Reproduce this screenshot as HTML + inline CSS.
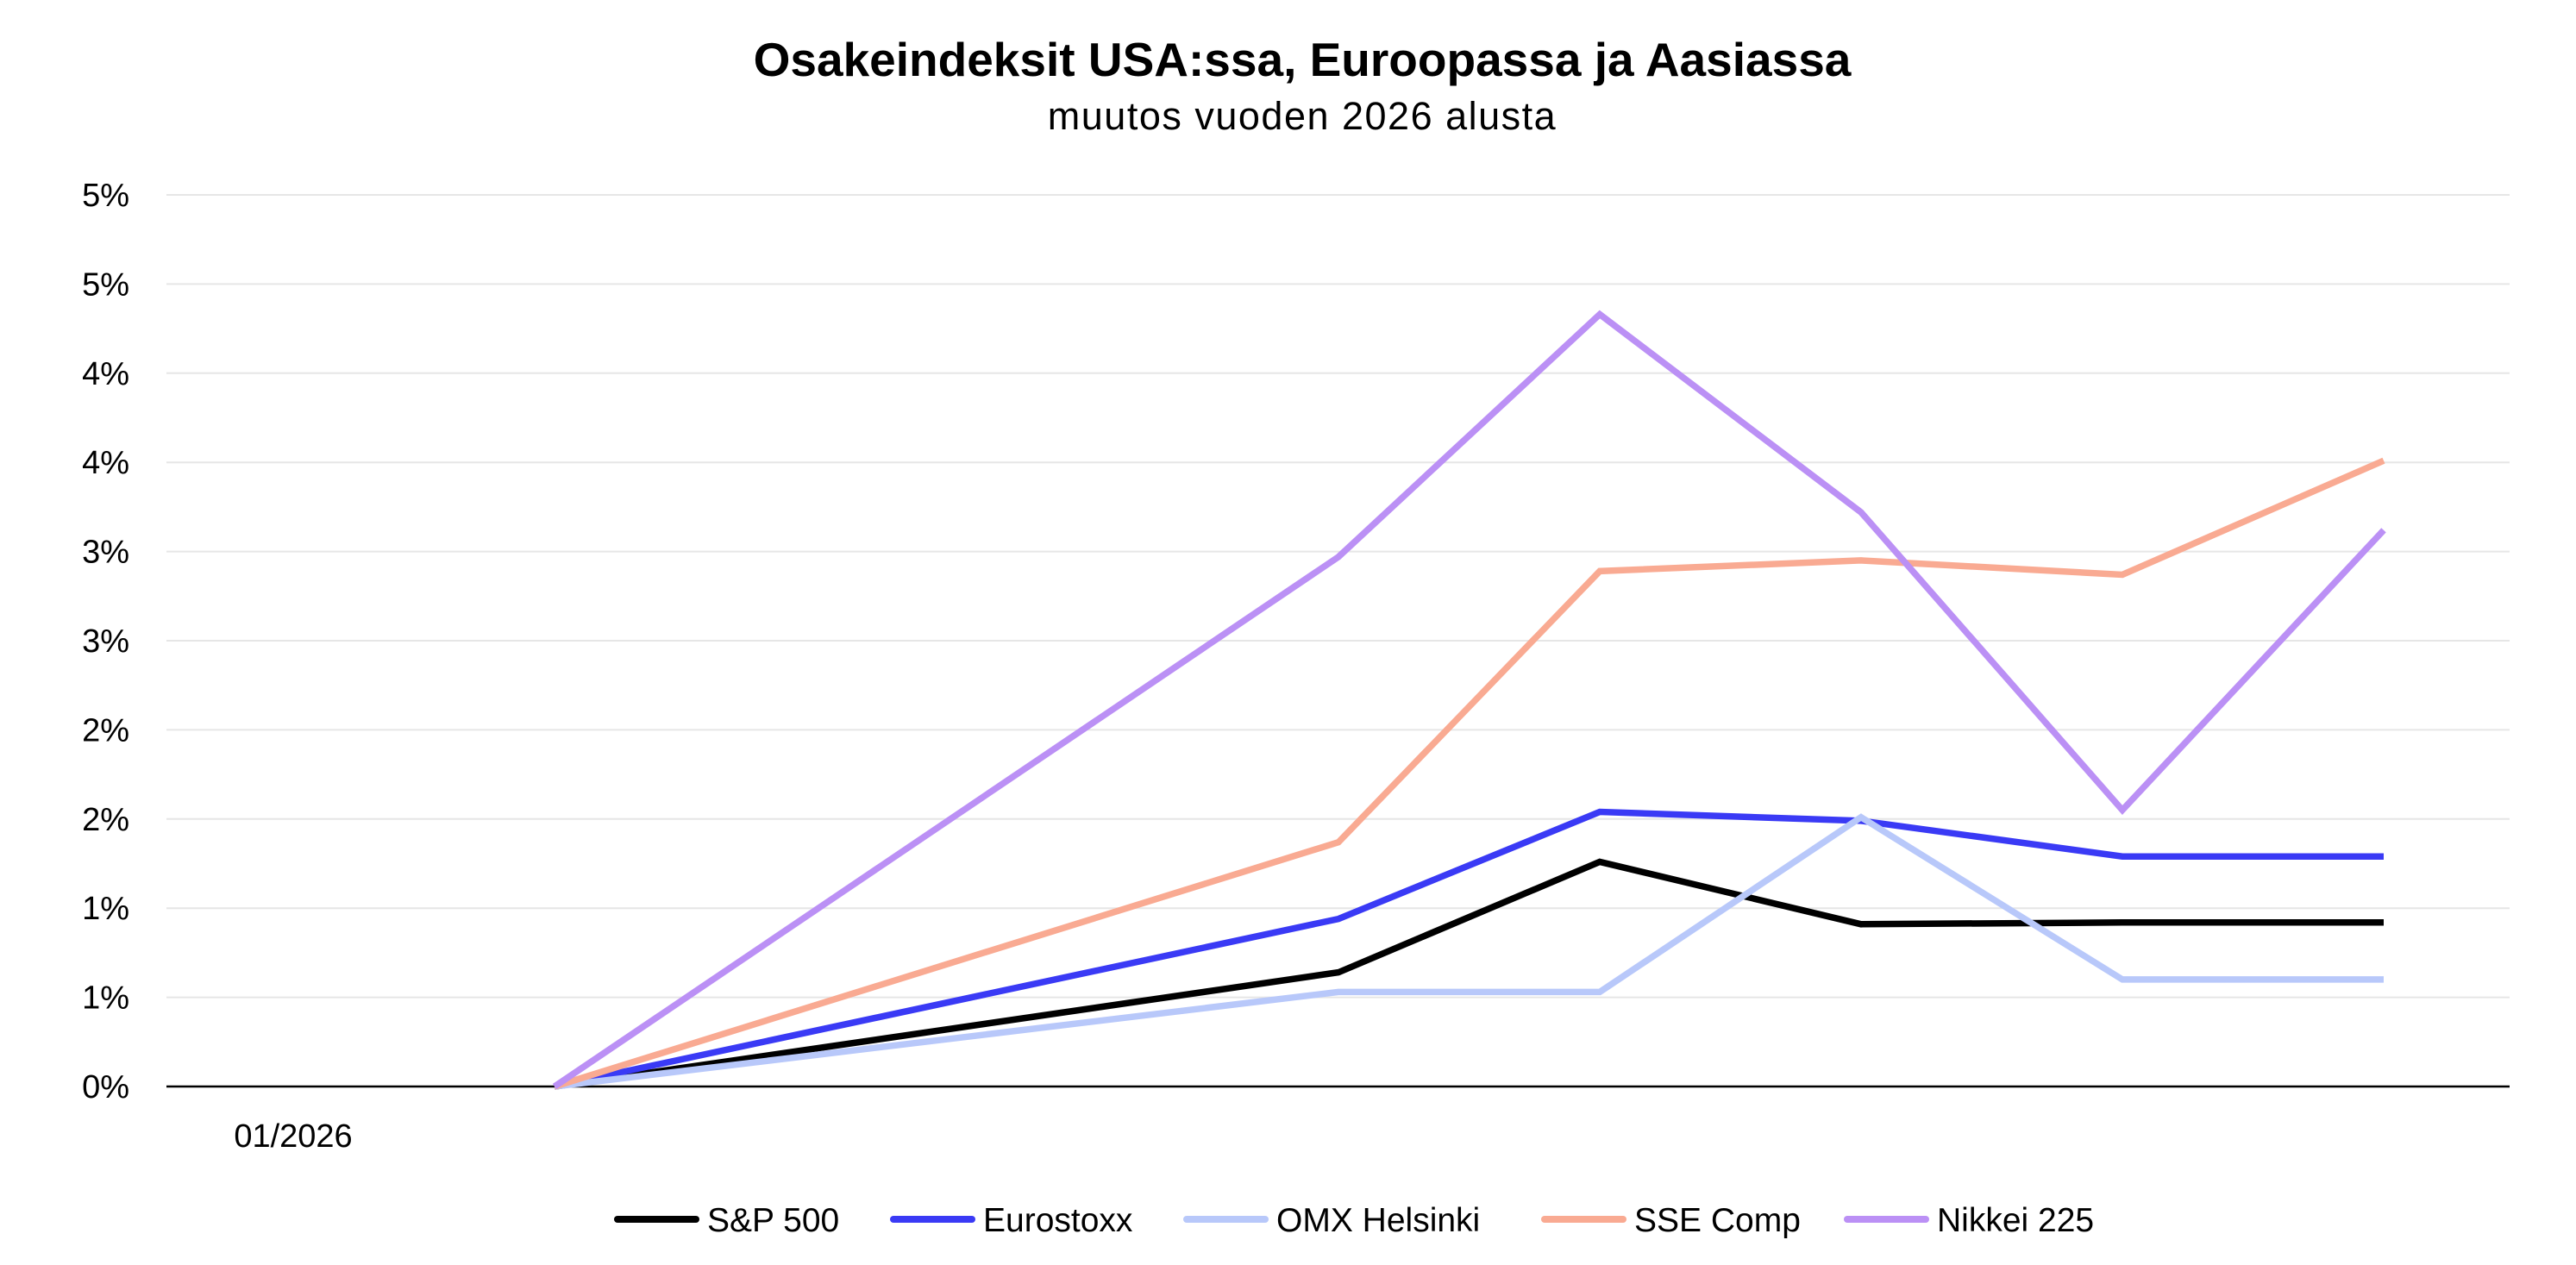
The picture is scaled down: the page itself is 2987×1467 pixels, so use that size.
<!DOCTYPE html>
<html><head><meta charset="utf-8"><style>
html,body{margin:0;padding:0;background:#fff;}
svg text{font-family:"Liberation Sans",sans-serif;}
</style></head><body>
<svg id="chart" width="2987" height="1462" viewBox="0 0 2987 1462" xmlns="http://www.w3.org/2000/svg">
<text x="1510" y="88" text-anchor="middle" font-size="55" font-weight="bold" fill="#000">Osakeindeksit USA:ssa, Euroopassa ja Aasiassa</text>
<text x="1510" y="150" text-anchor="middle" font-size="45" letter-spacing="1.5" fill="#000">muutos vuoden 2026 alusta</text>
<g id="grid"></g>
<g id="yticks"></g>
<g id="xticks"></g>
<g id="series"></g>
<g id="legend"></g>
</svg>
<script>
const categories = ["01/2026","","","","","","","",""];
const tickValues = [0,0.5,1,1.5,2,2.5,3,3.5,4,4.5,5];
const tickLabels = ["0%","1%","1%","2%","2%","3%","3%","4%","4%","5%","5%"];
const seriesNames = ["S&P 500","Eurostoxx","OMX Helsinki","SSE Comp","Nikkei 225"];
const seriesColors = ["#000000","#3a3af5","#b8c8fa","#f9aa92","#bb90f5"];
const sp500 = [null,0,null,null,0.64,1.26,0.91,0.92,0.92];
const eurostoxx = [null,0,null,null,0.94,1.54,1.49,1.29,1.29];
const omx = [null,0,null,null,0.53,0.53,1.51,0.60,0.60];
const sse = [null,0,null,null,1.37,2.89,2.95,2.87,3.51];
const nikkei = [null,0,null,null,2.97,4.33,3.22,1.55,3.12];
const allSeries = [sp500,eurostoxx,omx,sse,nikkei];

const NS="http://www.w3.org/2000/svg";
const left=193,right=2910,y0=1260,y5=226;
function xPos(i){return 340+303*i;}
function yPos(v){return y0-(v/5)*(y0-y5);}
function mk(tag,attrs,parent){const e=document.createElementNS(NS,tag);for(const k in attrs)e.setAttribute(k,attrs[k]);parent.appendChild(e);return e;}

const grid=document.getElementById('grid'),yt=document.getElementById('yticks'),xt=document.getElementById('xticks');
tickValues.forEach((v,i)=>{
  const l=mk('line',{x1:left,x2:right,y1:yPos(v),y2:yPos(v),stroke:v===0?'#000':'#e6e6e6','stroke-width':v===0?2.5:2},grid);
  
  
  const t=mk('text',{x:150,y:yPos(v)+13,'text-anchor':'end','font-size':38,fill:'#000'},yt);
  t.textContent=tickLabels[i];
  
  
});
categories.forEach((c,i)=>{
  if(!c)return;
  const t=mk('text',{x:xPos(i),y:1330,'text-anchor':'middle','font-size':38,fill:'#000'},xt);
  t.textContent=c;
  
  
});
const sg=document.getElementById('series');
allSeries.forEach((s,k)=>{
  const pts=[];s.forEach((v,i)=>{if(v!==null)pts.push(xPos(i)+','+yPos(v));});
  const p=mk('polyline',{points:pts.join(' '),fill:'none',stroke:seriesColors[k],'stroke-width':7.5,'stroke-linejoin':'miter'},sg);
  
  
});
const lg=document.getElementById('legend');
const legX=[716,1036,1376,1791,2142];
seriesNames.forEach((n,k)=>{
  const g=mk('g',{},lg);
  
  
  mk('line',{x1:legX[k],x2:legX[k]+91,y1:1414,y2:1414,stroke:seriesColors[k],'stroke-width':8,'stroke-linecap':'round'},g);
  const t=mk('text',{x:legX[k]+104,y:1428,'font-size':39,fill:'#000'},g);
  t.textContent=n;
});
</script>
</body></html>
